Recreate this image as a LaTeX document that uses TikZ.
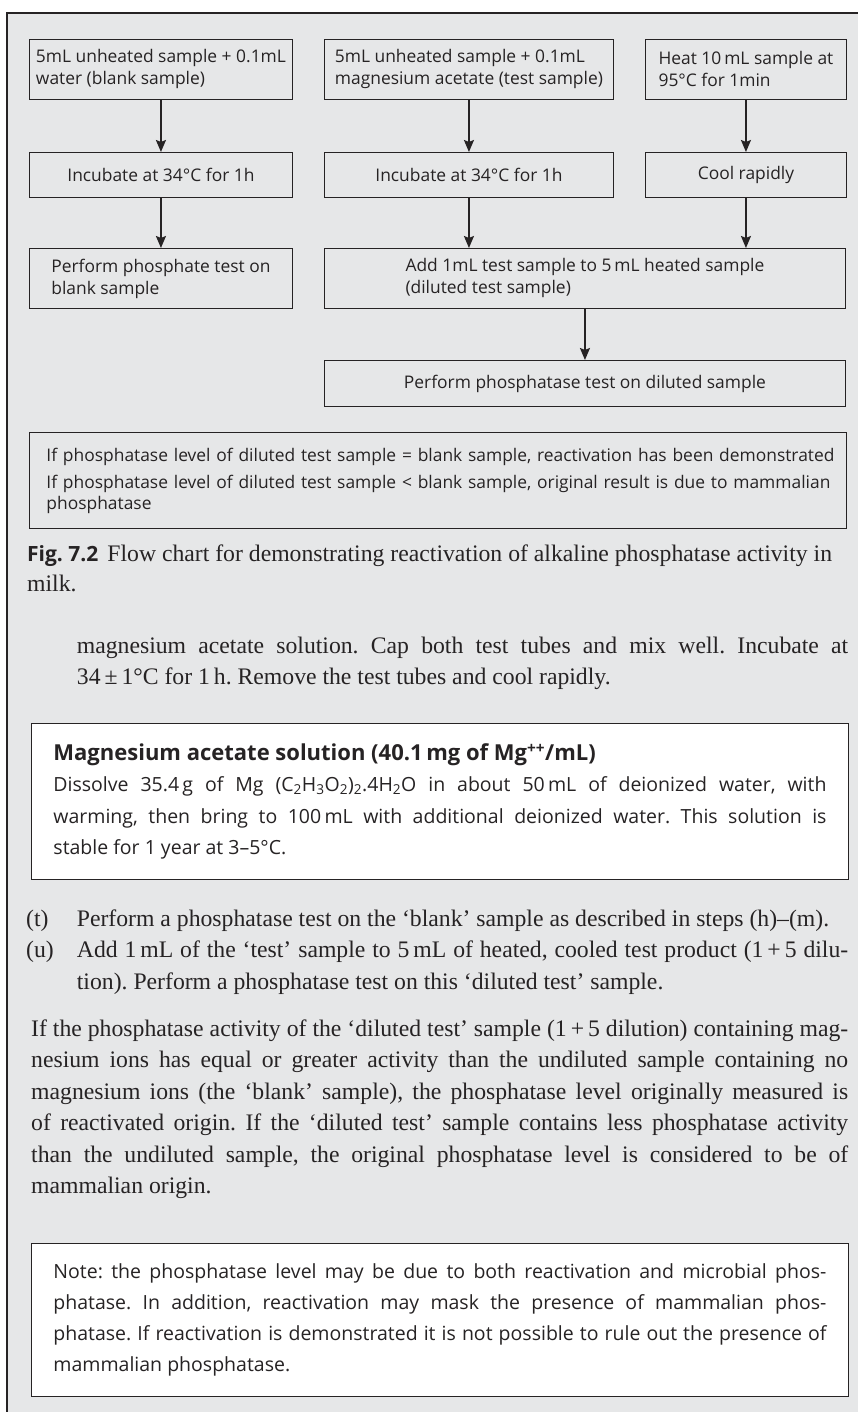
\documentclass[tikz,border=0pt]{standalone}
\usepackage{fontspec}
\setmainfont{Liberation Serif}
\setsansfont{Open Sans}
\usetikzlibrary{arrows.meta,positioning}
\frenchspacing

\definecolor{pagegray}{RGB}{230,231,232}
\definecolor{inkgray}{RGB}{38,35,36}

\tikzset{
  flowbox/.style={draw=inkgray, line width=0.9pt, anchor=north west, align=left, inner sep=0pt, text=inkgray, font=\sffamily\fontsize{17.4}{22}\selectfont},
  flowarrow/.style={draw=inkgray, line width=1.8pt, -{Stealth[length=12pt,width=10pt,inset=2pt]}},
  infobox/.style={draw=inkgray, line width=0.9pt, fill=white, anchor=north west, align=justify, inner xsep=22pt, inner ysep=0pt, text width=773pt, text=inkgray, font=\sffamily\fontsize{19.5}{31.3}\selectfont},
  bodytext/.style={anchor=base west, inner sep=0pt, align=justify, text=inkgray, font=\rmfamily\fontsize{23.7}{31.5}\selectfont}
}
\newcommand{\jline}[1]{{\spaceskip=0pt\xspaceskip=0pt\makebox[\linewidth][s]{#1}}\\}

\begin{document}
\begin{tikzpicture}[x=1pt,y=-1pt]
    \useasboundingbox (0,0) rectangle (858,1412);
    \fill[white] (0,0) rectangle (858,1412);
    \fill[pagegray] (7,13) rectangle (858,1412);
    \draw[inkgray, line width=1.8pt] (7,1412) -- (7,13) -- (858,13);
    % flow chart
    \node(blank) at (29,39) [flowbox, minimum width=263pt, minimum height=60pt] {5mL unheated sample + 0.1mL\\water (blank sample)};
    \node(test) at (324,39) [flowbox, minimum width=289pt, minimum height=60pt] {5mL unheated sample + 0.1mL\\magnesium acetate (test sample)};
    \node(heat) at (645,39) [flowbox, minimum width=201pt, minimum height=60pt] {Heat 10\,mL sample at\\95°C for 1min};
    \node(incA) at (29,152) [flowbox, minimum width=263pt, minimum height=45pt] {Incubate at 34°C for 1h};
    \node(incB) at (324,152) [flowbox, minimum width=289pt, minimum height=45pt] {Incubate at 34°C for 1h};
    \node(cool) at (645,152) [flowbox, minimum width=201pt, minimum height=45pt] {Cool rapidly};
    \node(phos) at (29,248) [flowbox, minimum width=263pt, minimum height=60pt] {Perform phosphate test on\\blank sample};
    \node(add) at (324,248) [flowbox, minimum width=521pt, minimum height=60pt] {Add 1mL test sample to 5\,mL heated sample\\(diluted test sample)};
    \node(perf) at (324,360) [flowbox, minimum width=521pt, minimum height=46pt] {Perform phosphatase test on diluted sample};
    \draw[flowarrow] (blank.south) -- (blank.south |- incA.north);
    \draw[flowarrow] (incA.south) -- (incA.south |- phos.north);
    \draw[flowarrow] (test.south) -- (test.south |- incB.north);
    \draw[flowarrow] (incB.south) -- (incB.south |- add.north);
    \draw[flowarrow] (heat.south) -- (heat.south |- cool.north);
    \draw[flowarrow] (cool.south) -- (cool.south |- add.north);
    \draw[flowarrow] (add.south) -- (perf.north);
    \node(verdict) at (29,432) [flowbox, minimum height=96pt, inner xsep=17pt, text width=783pt, font=\sffamily\fontsize{17.4}{21}\selectfont] {\mbox{If phosphatase level of diluted test sample = blank sample, reactivation has been demonstrated}\\[6pt]\mbox{If phosphatase level of diluted test sample < blank sample, original result is due to mammalian}\\phosphatase};
    % caption and text
    \node(caption) at (27,561) [bodytext, text width=825pt, font=\rmfamily\fontsize{23.7}{30}\selectfont] {{\sffamily\bfseries\fontsize{21}{30}\selectfont Fig.\ 7.2}\hspace{9pt}Flow chart for demonstrating reactivation of alkaline phosphatase activity in\\milk.};
    \node(cap) at (76.7,653) [bodytext, text width=771.3pt] {\jline{magnesium acetate solution. Cap both test tubes and mix well. Incubate at}34\,±\,1°C for 1\,h. Remove the test tubes and cool rapidly.};
    \node(mgbox) at (31,723) [infobox, minimum height=156pt] {{\bfseries\fontsize{22}{31.3}\selectfont Magnesium acetate solution (40.1\,mg of Mg\textsuperscript{++}/mL)}\\\jline{Dissolve 35.4\,g of Mg (C\textsubscript{2}H\textsubscript{3}O\textsubscript{2})\textsubscript{2}.4H\textsubscript{2}O in about 50\,mL of deionized water, with}\jline{warming, then bring to 100\,mL with additional deionized water. This solution is}stable for 1 year at 3–5°C.};
    \node(tlabel) at (26,926) [bodytext] {(t)};
    \node(ttext) at (76.7,926) [bodytext, text width=771.3pt] {Perform a phosphatase test on the ‘blank’ sample as described in steps (h)–(m).};
    \node(ulabel) at (26,957.5) [bodytext] {(u)};
    \node(utext) at (76.7,957.5) [bodytext, text width=771.3pt] {\jline{Add 1\,mL of the ‘test’ sample to 5\,mL of heated, cooled test product (1\,+\,5 dilu-}tion). Perform a phosphatase test on this ‘diluted test’ sample.};
    \node(verdicttext) at (31,1036) [bodytext, text width=817pt] {\jline{If the phosphatase activity of the ‘diluted test’ sample (1\,+\,5 dilution) containing mag-}\jline{nesium ions has equal or greater activity than the undiluted sample containing no}\jline{magnesium ions (the ‘blank’ sample), the phosphatase level originally measured is}\jline{of reactivated origin. If the ‘diluted test’ sample contains less phosphatase activity}\jline{than the undiluted sample, the original phosphatase level is considered to be of}mammalian origin.};
    \node(note) at (31,1243) [infobox, minimum height=153pt] {\jline{Note: the phosphatase level may be due to both reactivation and microbial phos-}\jline{phatase. In addition, reactivation may mask the presence of mammalian phos-}\jline{phatase. If reactivation is demonstrated it is not possible to rule out the presence of}mammalian phosphatase.};
\end{tikzpicture}
\end{document}
